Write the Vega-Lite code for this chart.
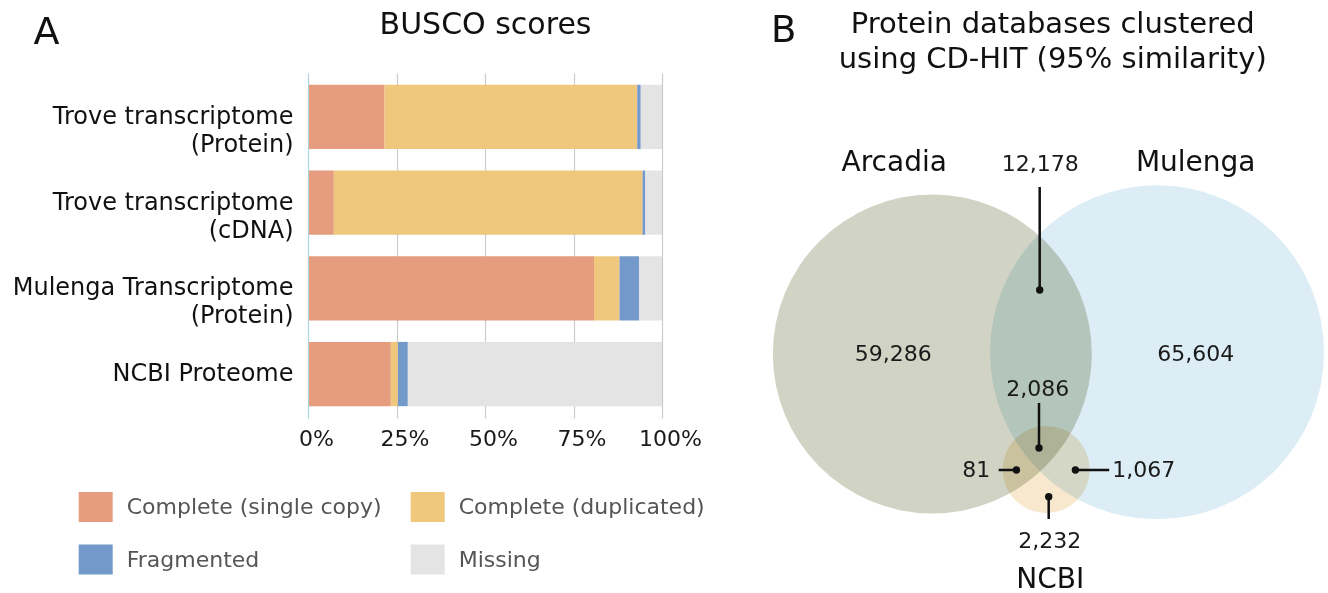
{
  "$schema": "https://vega.github.io/schema/vega-lite/v6.json",
  "padding": {"left": 12, "top": 9, "right": 0, "bottom": 0},
  "background": "white",
  "bounds": "flush",
  "spacing": 10,
  "config": {"font": "DejaVu Sans", "view": {"stroke": null}},
  "resolve": {"scale": {"color": "independent", "size": "independent"}, "legend": {"color": "independent", "size": "independent"}},
  "datasets": {
    "busco": [
      {"dataset": "Trove transcriptome|(Protein)", "category": "Complete (single copy)", "rank": 1, "percent": 21.6},
      {"dataset": "Trove transcriptome|(Protein)", "category": "Complete (duplicated)", "rank": 2, "percent": 71.4},
      {"dataset": "Trove transcriptome|(Protein)", "category": "Fragmented", "rank": 3, "percent": 1.0},
      {"dataset": "Trove transcriptome|(Protein)", "category": "Missing", "rank": 4, "percent": 6.0},
      {"dataset": "Trove transcriptome|(cDNA)", "category": "Complete (single copy)", "rank": 1, "percent": 7.3},
      {"dataset": "Trove transcriptome|(cDNA)", "category": "Complete (duplicated)", "rank": 2, "percent": 87.2},
      {"dataset": "Trove transcriptome|(cDNA)", "category": "Fragmented", "rank": 3, "percent": 0.8},
      {"dataset": "Trove transcriptome|(cDNA)", "category": "Missing", "rank": 4, "percent": 4.7},
      {"dataset": "Mulenga Transcriptome|(Protein)", "category": "Complete (single copy)", "rank": 1, "percent": 80.8},
      {"dataset": "Mulenga Transcriptome|(Protein)", "category": "Complete (duplicated)", "rank": 2, "percent": 7.2},
      {"dataset": "Mulenga Transcriptome|(Protein)", "category": "Fragmented", "rank": 3, "percent": 5.5},
      {"dataset": "Mulenga Transcriptome|(Protein)", "category": "Missing", "rank": 4, "percent": 6.5},
      {"dataset": "NCBI Proteome", "category": "Complete (single copy)", "rank": 1, "percent": 23.4},
      {"dataset": "NCBI Proteome", "category": "Complete (duplicated)", "rank": 2, "percent": 2.0},
      {"dataset": "NCBI Proteome", "category": "Fragmented", "rank": 3, "percent": 2.8},
      {"dataset": "NCBI Proteome", "category": "Missing", "rank": 4, "percent": 71.8}
    ],
    "circles": [
      {"set": "Arcadia", "x": 260.3, "y": 281},
      {"set": "Mulenga", "x": 485, "y": 279.3},
      {"set": "NCBI", "x": 374.2, "y": 396.5}
    ],
    "leaders": [
      {"label": "12,178", "x": 367.7, "y": 217, "x2": 367.7, "y2": 114},
      {"label": "2,086", "x": 367, "y": 375, "x2": 367, "y2": 330},
      {"label": "81", "x": 344.4, "y": 397, "x2": 326.7, "y2": 397},
      {"label": "1,067", "x": 403.4, "y": 397, "x2": 437.2, "y2": 397},
      {"label": "2,232", "x": 376.7, "y": 423.7, "x2": 376.7, "y2": 446}
    ],
    "labels": [
      {"label": "B", "kind": "panel", "x": 111.7, "y": -31},
      {"label": "Protein databases clustered", "kind": "title", "x": 380.7, "y": -40},
      {"label": "using CD-HIT (95% similarity)", "kind": "title", "x": 380.7, "y": -5},
      {"label": "Arcadia", "kind": "set", "x": 222.2, "y": 98},
      {"label": "Mulenga", "kind": "set", "x": 523.7, "y": 98},
      {"label": "NCBI", "kind": "set", "x": 378.2, "y": 515},
      {"label": "12,178", "kind": "count", "x": 368.2, "y": 98},
      {"label": "59,286", "kind": "count", "x": 221.2, "y": 288},
      {"label": "65,604", "kind": "count", "x": 523.7, "y": 288},
      {"label": "2,086", "kind": "count", "x": 365.7, "y": 323},
      {"label": "81", "kind": "count", "x": 304.2, "y": 404},
      {"label": "1,067", "kind": "count", "x": 471.7, "y": 404},
      {"label": "2,232", "kind": "count", "x": 377.7, "y": 475}
    ]
  },
  "hconcat": [
    {
      "width": 354,
      "height": 345,
      "data": {"name": "busco"},
      "mark": {"type": "bar"},
      "encoding": {
        "y": {
          "field": "dataset",
          "type": "nominal",
          "sort": ["Trove transcriptome|(Protein)", "Trove transcriptome|(cDNA)", "Mulenga Transcriptome|(Protein)", "NCBI Proteome"],
          "scale": {"paddingInner": 0.25, "paddingOuter": 0.138},
          "axis": {
            "title": "A",
            "titleAngle": 0,
            "titleFontSize": 38,
            "titleFontWeight": "normal",
            "titleColor": "#111111",
            "titleX": -262,
            "titleY": -30,
            "titleAlign": "center",
            "titleBaseline": "alphabetic",
            "labelExpr": "split(datum.value, '|')",
            "labelFontSize": 24,
            "labelLineHeight": 28,
            "labelColor": "#111111",
            "labelPadding": 15,
            "labelLimit": 400,
            "ticks": false,
            "domainColor": "#a9d6df",
            "domainWidth": 1,
            "zindex": 1
          }
        },
        "x": {
          "field": "percent",
          "type": "quantitative",
          "stack": "zero",
          "scale": {"domain": [0, 100], "nice": false},
          "axis": {
            "values": [0, 25, 50, 75, 100],
            "labelExpr": "datum.value + '%'",
            "labelFontSize": 22,
            "labelColor": "#1a1a1a",
            "labelPadding": 10,
            "labelOffset": 8,
            "labelFlush": false,
            "ticks": false,
            "domain": false,
            "grid": true,
            "gridColor": "#cccccc",
            "gridWidth": 1.2,
            "zindex": 0,
            "title": "BUSCO scores",
            "titleFontSize": 30,
            "titleFontWeight": "normal",
            "titleColor": "#111111",
            "titleBaseline": "alphabetic",
            "titleY": -385
          }
        },
        "color": {
          "field": "category",
          "type": "nominal",
          "scale": {
            "domain": ["Complete (single copy)", "Fragmented", "Complete (duplicated)", "Missing"],
            "range": ["#E69C7E", "#7399CA", "#EFC87E", "#E4E4E4"]
          },
          "legend": {
            "title": null,
            "orient": "none",
            "legendX": -229.3,
            "legendY": 417,
            "columns": 2,
            "columnPadding": 29,
            "rowPadding": 20.5,
            "padding": 0,
            "symbolType": "M-1,-0.88H1V0.88H-1Z",
            "symbolSize": 1156,
            "symbolStrokeWidth": 0,
            "symbolOpacity": 1,
            "labelFontSize": 22,
            "labelColor": "#555555",
            "labelOffset": 14,
            "labelLimit": 400
          }
        },
        "order": {"field": "rank", "type": "quantitative"}
      }
    },
    {
      "width": 654,
      "height": 520,
      "layer": [
        {
          "data": {"name": "circles"},
          "mark": {"type": "point", "filled": true, "shape": "circle", "opacity": 1, "blend": "multiply", "strokeWidth": 0},
          "encoding": {
            "x": {"field": "x", "type": "quantitative", "scale": {"domain": [0, 654], "nice": false, "zero": false}, "axis": null},
            "y": {"field": "y", "type": "quantitative", "scale": {"domain": [0, 520], "reverse": true, "nice": false, "zero": false}, "axis": null},
            "size": {"field": "set", "type": "nominal", "scale": {"type": "ordinal", "domain": ["Arcadia", "Mulenga", "NCBI"], "range": [101761, 111556, 7569]}, "legend": null},
            "color": {"field": "set", "type": "nominal", "scale": {"domain": ["Arcadia", "Mulenga", "NCBI"], "range": ["#D1D4C4", "#DCEDF5", "#F7E8CE"]}, "legend": null}
          }
        },
        {
          "data": {"name": "leaders"},
          "mark": {"type": "rule", "strokeWidth": 2.5, "color": "#111111"},
          "encoding": {
            "x": {"field": "x", "type": "quantitative"},
            "y": {"field": "y", "type": "quantitative"},
            "x2": {"field": "x2"},
            "y2": {"field": "y2"}
          }
        },
        {
          "data": {"name": "leaders"},
          "mark": {"type": "point", "filled": true, "shape": "circle", "size": 55, "color": "#111111", "opacity": 1},
          "encoding": {
            "x": {"field": "x", "type": "quantitative"},
            "y": {"field": "y", "type": "quantitative"}
          }
        },
        {
          "data": {"name": "labels"},
          "transform": [{"filter": "datum.kind === 'count'"}],
          "mark": {"type": "text", "fontSize": 22, "align": "center", "baseline": "alphabetic", "color": "#1a1a1a"},
          "encoding": {
            "x": {"field": "x", "type": "quantitative"},
            "y": {"field": "y", "type": "quantitative"},
            "text": {"field": "label"}
          }
        },
        {
          "data": {"name": "labels"},
          "transform": [{"filter": "datum.kind === 'set'"}],
          "mark": {"type": "text", "fontSize": 28, "align": "center", "baseline": "alphabetic", "color": "#111111"},
          "encoding": {
            "x": {"field": "x", "type": "quantitative"},
            "y": {"field": "y", "type": "quantitative"},
            "text": {"field": "label"}
          }
        },
        {
          "data": {"name": "labels"},
          "transform": [{"filter": "datum.kind === 'title'"}],
          "mark": {"type": "text", "fontSize": 29, "align": "center", "baseline": "alphabetic", "color": "#111111"},
          "encoding": {
            "x": {"field": "x", "type": "quantitative"},
            "y": {"field": "y", "type": "quantitative"},
            "text": {"field": "label"}
          }
        },
        {
          "data": {"name": "labels"},
          "transform": [{"filter": "datum.kind === 'panel'"}],
          "mark": {"type": "text", "fontSize": 37, "align": "center", "baseline": "alphabetic", "color": "#111111"},
          "encoding": {
            "x": {"field": "x", "type": "quantitative"},
            "y": {"field": "y", "type": "quantitative"},
            "text": {"field": "label"}
          }
        }
      ]
    }
  ]
}
